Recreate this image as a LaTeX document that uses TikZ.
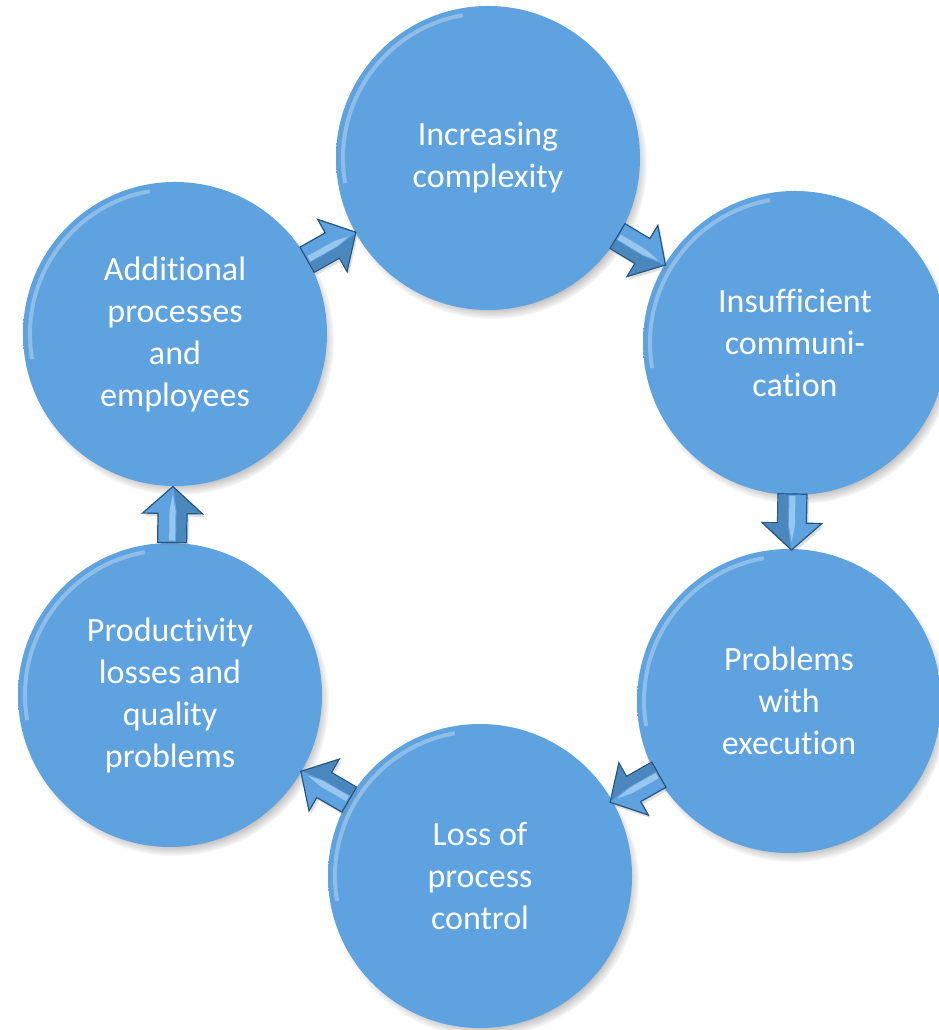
\documentclass[tikz,border=0pt]{standalone}
\usepackage{fontspec}
\setmainfont[Ligatures=NoCommon]{Carlito}
\usetikzlibrary{shadows}
\definecolor{cyclefill}{HTML}{5EA2DF}
\definecolor{cycleedge}{HTML}{23557F}
\definecolor{arrowlight}{HTML}{A6CFF2}
\pgfdeclareradialshading{cycleball}{\pgfpoint{0bp}{0bp}}{color(0bp)=(cyclefill); color(45.5bp)=(cyclefill); color(48.5bp)=(cyclefill!78!black); color(50bp)=(cycleedge)}

\begin{document}
\begin{tikzpicture}[x=1pt,y=1pt,
		stage/.style={circle, minimum size=304pt, inner sep=0pt, shading=cycleball, text=white, align=center, font=\fontsize{34}{42}\selectfont, circular drop shadow={shadow xshift=4pt, shadow yshift=-6pt, shadow scale=1.02}},
		rim/.style={white, opacity=.3, line width=4pt},
		flow/.pic={
			\path[fill=cyclefill, draw=cycleedge, line width=1.2pt, line join=miter, drop shadow={shadow xshift=2pt, shadow yshift=-3pt, opacity=.25}] (-28,-14.5) -- (1,-14.5) -- (1,-30) -- (28,0) -- (1,30) -- (1,14.5) -- (-28,14.5) -- cycle;
			\fill[arrowlight, opacity=.8] (-26,-3) -- (4,-3) -- (20,0) -- (4,3) -- (-26,3) -- cycle;
			\fill[cycleedge, opacity=.35] (-27,-13.5) -- (2,-13.5) -- (2,-28) -- (26,-1) -- (4,-4) -- (-27,-4) -- cycle;}]
			\useasboundingbox (0,0) rectangle (938,1030);
			\node[stage] (complexity) at (488,872) {Increasing\\complexity};
			\node[stage] (communication) at (795,687) {Insufficient\\communi-\\cation};
			\node[stage] (execution) at (789,329) {Problems\\with\\execution};
			\node[stage] (control) at (480,154) {Loss of\\process\\control};
			\node[stage] (losses) at (170,335) {Productivity\\losses and\\quality\\problems};
			\node[stage] (employees) at (175,696) {Additional\\processes\\and\\employees};
			\foreach \n in {complexity,communication,execution,control,losses,employees}
				\draw[rim] ([shift={(100:145)}]\n.center) arc[start angle=100, end angle=190, radius=145];
			\path (employees) -- (complexity) pic[midway, sloped, allow upside down] {flow};
			\path (complexity) -- (communication) pic[midway, sloped, allow upside down] {flow};
			\path (communication) -- (execution) pic[midway, sloped, allow upside down] {flow};
			\path (execution) -- (control) pic[midway, sloped, allow upside down] {flow};
			\path (control) -- (losses) pic[midway, sloped, allow upside down] {flow};
			\path (losses) -- (employees) pic[midway, sloped, allow upside down] {flow};
		\end{tikzpicture}
\end{document}
